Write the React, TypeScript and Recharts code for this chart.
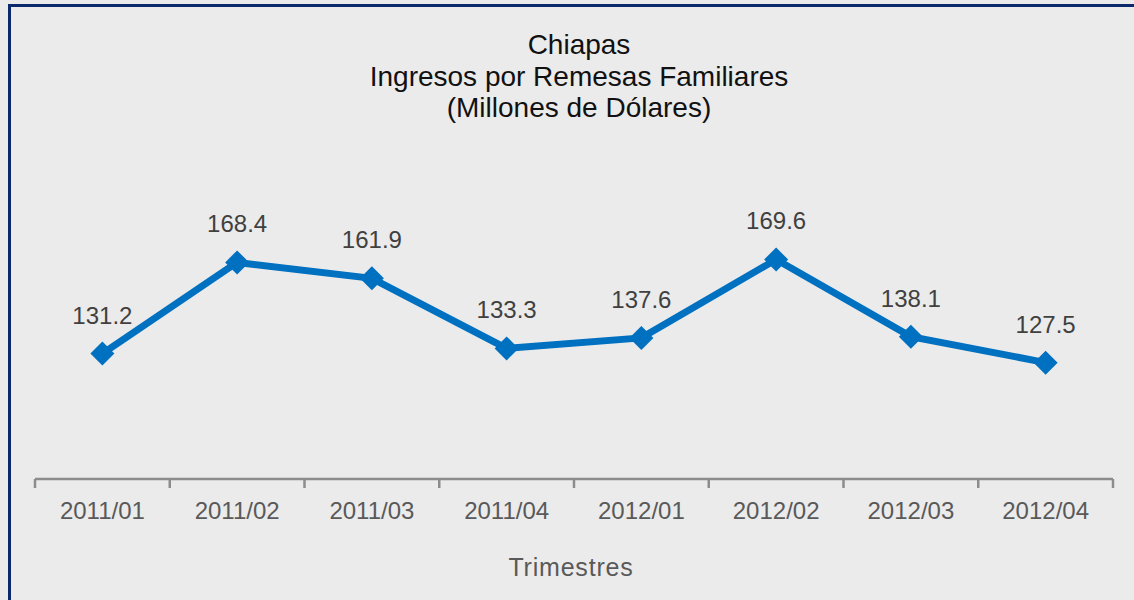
import React from "react"
import { LineChart, Line, XAxis, YAxis, LabelList } from "recharts"

// Ingresos por remesas familiares, Chiapas (millones de dólares)
const quarters = ["2011/01", "2011/02", "2011/03", "2011/04", "2012/01", "2012/02", "2012/03", "2012/04"]
const remesas = [131.2, 168.4, 161.9, 133.3, 137.6, 169.6, 138.1, 127.5]
const titleLines = ["Chiapas", "Ingresos por Remesas Familiares", "(Millones de Dólares)"]
const axisTitle = "Trimestres"

const data = quarters.map((q, i) => ({ quarter: q, value: remesas[i] }))

const W = 1134
const H = 600
const margin = { top: 234, right: 21, bottom: 91, left: 35 }
const band = (W - margin.left - margin.right) / quarters.length
const font = "'Liberation Sans', Arial, Helvetica, sans-serif"

const Diamond = ({ cx, cy }: any) => {
  if (cx == null || cy == null) return null
  const r = 12
  return <polygon points={`${cx},${cy - r} ${cx + r},${cy} ${cx},${cy + r} ${cx - r},${cy}`} fill="#0070c0" />
}

const QuarterTick = ({ x, y, payload, index }: any) => {
  const left = x - band / 2
  return (
    <g>
      <line x1={left} y1={y} x2={left} y2={y + 9} stroke="#8c8c8c" strokeWidth={2.5} />
      {index === quarters.length - 1 && (
        <line x1={x + band / 2} y1={y} x2={x + band / 2} y2={y + 9} stroke="#8c8c8c" strokeWidth={2.5} />
      )}
      <text x={x} y={y + 40} textAnchor="middle" fill="#595959" fontSize={24} fontFamily={font}>
        {payload.value}
      </text>
    </g>
  )
}

const ValueLabel = ({ x, y, value }: any) => (
  <text x={x} y={y - 30} textAnchor="middle" fill="#404040" fontSize={24} fontFamily={font}>
    {value}
  </text>
)

export default function App() {
  return (
    <div style={{ position: "absolute", left: 0, top: 0, width: W, height: H, background: "#ebebeb", overflow: "hidden" }}>
      <div
        style={{
          position: "absolute",
          left: 8,
          top: 4,
          width: W,
          height: H,
          borderLeft: "3px solid #0b2a6b",
          borderTop: "3px solid #0b2a6b",
        }}
      />
      <div style={{ position: "absolute", left: 0, top: 29, width: 1158, textAlign: "center", fontFamily: font, fontSize: 28, lineHeight: "31.5px", color: "#111" }}>
        {titleLines.map((t) => (
          <div key={t}>{t}</div>
        ))}
      </div>
      <div style={{ position: "absolute", left: 0, top: 0 }}>
        <LineChart width={W} height={H} data={data} margin={margin}>
          <YAxis hide domain={[80, 180]} />
          <XAxis
            dataKey="quarter"
            stroke="#8c8c8c"
            strokeWidth={2.5}
            height={30}
            padding={{ left: band / 2, right: band / 2 }}
            tickLine={false}
            tickSize={0}
            tickMargin={0}
            tick={<QuarterTick />}
            interval={0}
          />
          <Line
            dataKey="value"
            stroke="#0070c0"
            strokeWidth={7}
            dot={<Diamond />}
            activeDot={false}
            isAnimationActive={false}
          >
            <LabelList dataKey="value" content={<ValueLabel />} />
          </Line>
        </LineChart>
      </div>
      <div style={{ position: "absolute", left: 0, top: 552, width: 1142, textAlign: "center", fontFamily: font, fontSize: 25, lineHeight: "30px", letterSpacing: 0.8, color: "#595959" }}>
        {axisTitle}
      </div>
    </div>
  )
}
